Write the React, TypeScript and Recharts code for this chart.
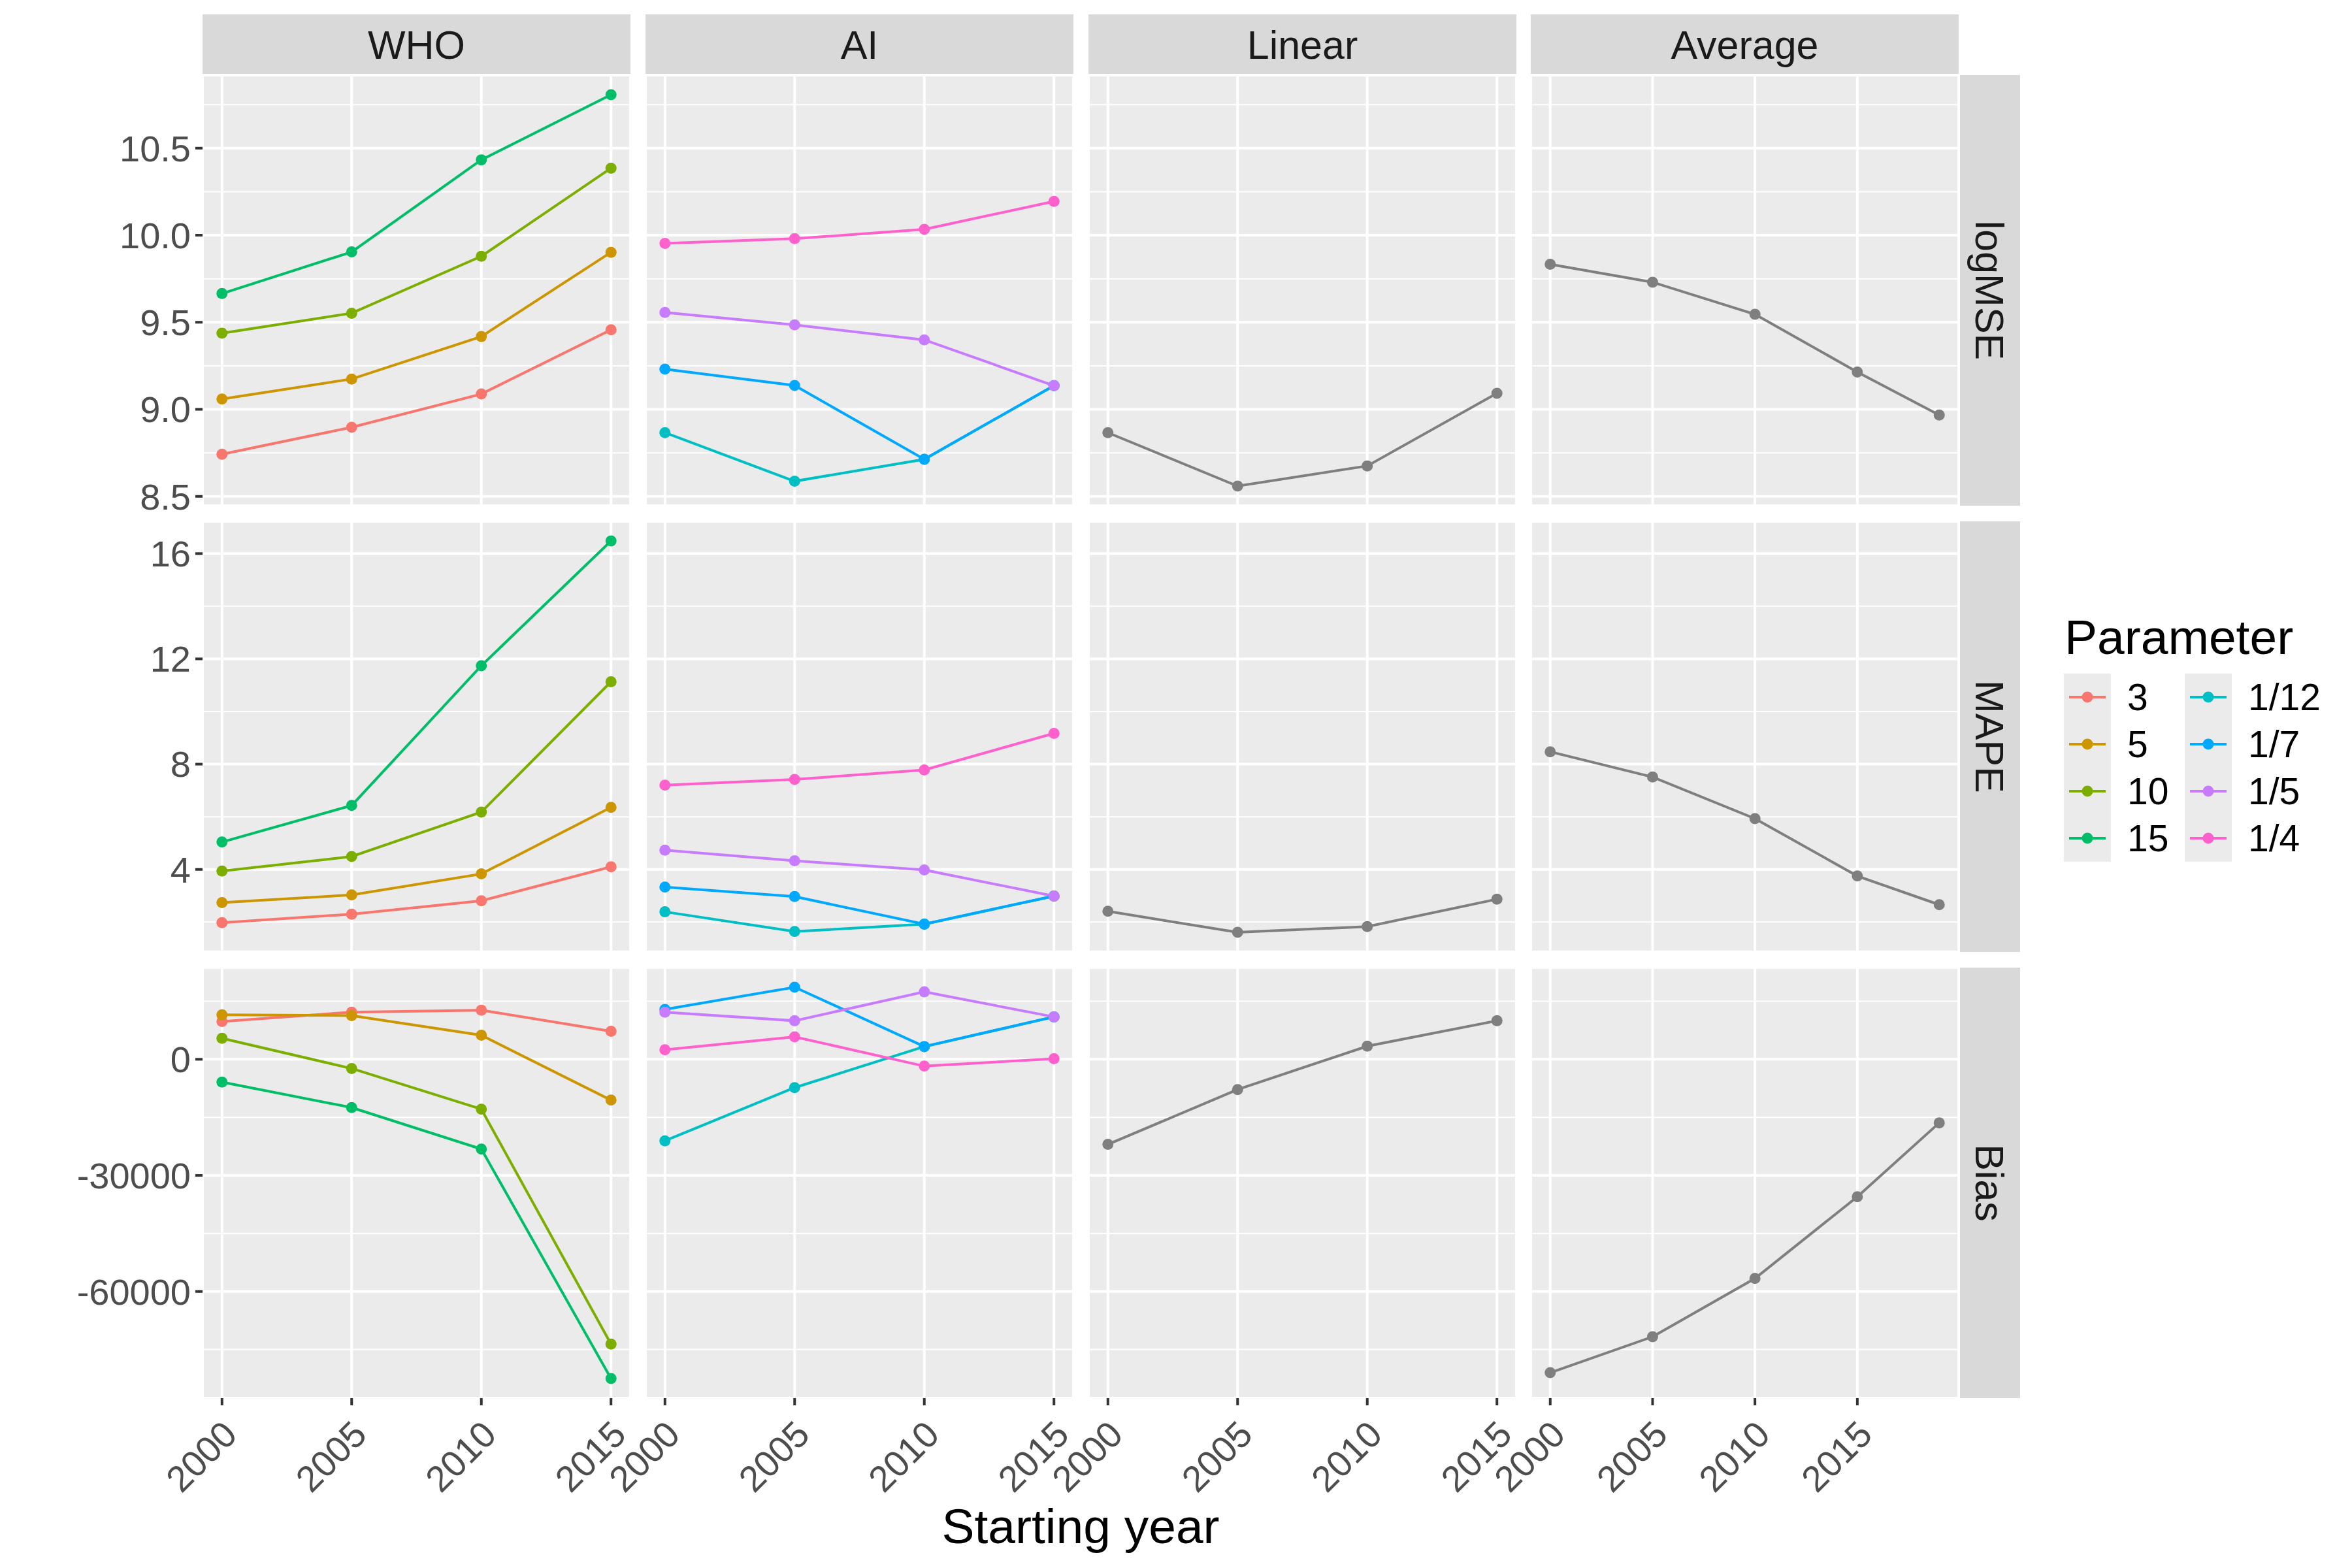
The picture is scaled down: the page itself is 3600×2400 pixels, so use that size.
import React from "react";
import { LineChart, Line, XAxis, YAxis, CartesianGrid } from "recharts";

// ── Data ──────────────────────────────────────────────────────────────────────
const years = [2000, 2005, 2010, 2015];
const avgYears = [2000, 2005, 2010, 2015, 2019];

const methods = ["WHO", "AI", "Linear", "Average"];
const metrics = ["logMSE", "MAPE", "Bias"];

const whoParams = ["3", "5", "10", "15"];
const aiParams = ["1/12", "1/7", "1/5", "1/4"];
const whoColors = ["#F8766D", "#CD9600", "#7CAE00", "#00BE67"];
const aiColors = ["#00BFC4", "#00A9FF", "#C77CFF", "#FF61CC"];
const GREY_LINE = "#7F7F7F";

// rows follow whoParams / aiParams order
const whoLogMSE = [
  [8.742, 8.897, 9.088, 9.457],
  [9.059, 9.174, 9.418, 9.902],
  [9.437, 9.552, 9.879, 10.385],
  [9.665, 9.904, 10.433, 10.807],
];
const aiLogMSE = [
  [8.866, 8.587, 8.713, 9.136],
  [9.231, 9.137, 8.713, 9.136],
  [9.556, 9.485, 9.399, 9.136],
  [9.953, 9.98, 10.034, 10.194],
];
const linearLogMSE = [8.866, 8.559, 8.675, 9.092];
const avgLogMSE = [9.833, 9.73, 9.546, 9.214, 8.967];

const whoMAPE = [
  [1.98, 2.3, 2.81, 4.1],
  [2.74, 3.03, 3.83, 6.36],
  [3.94, 4.49, 6.18, 11.13],
  [5.04, 6.43, 11.74, 16.48],
];
const aiMAPE = [
  [2.39, 1.64, 1.92, 2.99],
  [3.33, 2.97, 1.92, 2.99],
  [4.73, 4.33, 3.98, 2.99],
  [7.2, 7.42, 7.78, 9.17],
];
const linearMAPE = [2.41, 1.61, 1.83, 2.87];
const avgMAPE = [8.47, 7.51, 5.93, 3.75, 2.66];

const whoBias = [
  [9760, 12190, 12690, 7230],
  [11480, 11300, 6220, -10550],
  [5410, -2380, -12880, -73600],
  [-5900, -12470, -23190, -82500],
];
const aiBias = [
  [-21070, -7320, 3290, 10970],
  [12890, 18640, 3290, 10970],
  [12190, 9960, 17430, 10970],
  [2480, 5810, -1770, 150],
];
const linearBias = [-21980, -7820, 3390, 9960];
const avgBias = [-80990, -71690, -56630, -35510, -16420];

// axis breaks
const xMajor = [2000, 2005, 2010, 2015];
const xMinor = [2002.5, 2007.5, 2012.5];
const xMinorAvg = [2002.5, 2007.5, 2012.5, 2017.5];
const yMajor = [
  [8.5, 9, 9.5, 10, 10.5],
  [4, 8, 12, 16],
  [-60000, -30000, 0],
];
const yMinor = [
  [8.75, 9.25, 9.75, 10.25, 10.75],
  [2, 6, 10, 14],
  [-75000, -45000, -15000, 15000],
];

// ── Layout ────────────────────────────────────────────────────────────────────
const FONT = '"Liberation Sans", Arial, Helvetica, sans-serif';
const COL_LEFT = [310, 988, 1666, 2343];
const ROW_TOP = [115, 798, 1481];
const PANEL_W = 655;
const PANEL_H = 659;
const STRIP_TOP = 22;
const STRIP_H = 93;
const RSTRIP_X = 2998;
const RSTRIP_W = 94;
const X_AXIS_H = 200;

const whoByMetric = [whoLogMSE, whoMAPE, whoBias];
const aiByMetric = [aiLogMSE, aiMAPE, aiBias];
const linearByMetric = [linearLogMSE, linearMAPE, linearBias];
const avgByMetric = [avgLogMSE, avgMAPE, avgBias];

type Series = { key: string; color: string; values: number[] };

function seriesFor(row: number, col: number): { x: number[]; series: Series[] } {
  if (col === 0)
    return {
      x: years,
      series: whoParams.map((p, i) => ({ key: p, color: whoColors[i], values: whoByMetric[row][i] })),
    };
  if (col === 1)
    return {
      x: years,
      series: aiParams.map((p, i) => ({ key: p, color: aiColors[i], values: aiByMetric[row][i] })),
    };
  if (col === 2) return { x: years, series: [{ key: "Linear", color: GREY_LINE, values: linearByMetric[row] }] };
  return { x: avgYears, series: [{ key: "Average", color: GREY_LINE, values: avgByMetric[row] }] };
}

// ggplot-style 5% expansion
function expand(vals: number[]): [number, number] {
  const lo = Math.min(...vals);
  const hi = Math.max(...vals);
  const pad = (hi - lo) * 0.05;
  return [lo - pad, hi + pad];
}

function rowDomain(row: number): [number, number] {
  const all: number[] = [];
  for (let c = 0; c < 4; c++) seriesFor(row, c).series.forEach((s) => all.push(...s.values));
  return expand(all);
}

function fmtY(row: number) {
  return (v: number) => (row === 0 ? v.toFixed(1) : String(v));
}

function renderXTick(props: any) {
  const { x, y, payload } = props;
  const ax = x + 26;
  const ay = y + 48;
  return (
    <text
      x={ax}
      y={ay}
      transform={`rotate(-45 ${ax} ${ay})`}
      textAnchor="end"
      fontSize={56}
      fontFamily={FONT}
      fill="#4D4D4D"
    >
      {payload.value}
    </text>
  );
}

function Panel({ row, col }: { row: number; col: number }) {
  const { x, series } = seriesFor(row, col);
  const data = x.map((yr, i) => {
    const r: Record<string, number> = { year: yr };
    series.forEach((s) => (r[s.key] = s.values[i]));
    return r;
  });
  const xDom = expand(x);
  const yDom = rowDomain(row);
  const yW = col === 0 ? COL_LEFT[0] : 0;
  const xH = row === 2 ? X_AXIS_H : 0;
  const tickLine = { stroke: "#333333", strokeWidth: 4 };

  return (
    <div style={{ position: "absolute", left: COL_LEFT[col] - yW, top: ROW_TOP[row] }}>
      <LineChart
        width={yW + PANEL_W}
        height={PANEL_H + xH}
        data={data}
        margin={{ top: 0, right: 0, bottom: 0, left: 0 }}
      >
        <XAxis xAxisId="minor" type="number" domain={xDom} ticks={col === 3 ? xMinorAvg : xMinor} hide allowDataOverflow />
        <YAxis yAxisId="minor" type="number" domain={yDom} ticks={yMinor[row]} hide allowDataOverflow />
        <CartesianGrid xAxisId="minor" yAxisId="minor" fill="#EBEBEB" fillOpacity={1} stroke="#FFFFFF" strokeWidth={2} />
        <CartesianGrid stroke="#FFFFFF" strokeWidth={4} />
        <XAxis
          dataKey="year"
          type="number"
          domain={xDom}
          ticks={xMajor}
          allowDataOverflow
          hide={row !== 2}
          height={xH}
          interval={0}
          tickSize={11}
          tickMargin={0}
          axisLine={false}
          tickLine={tickLine}
          tick={renderXTick}
        />
        <YAxis
          type="number"
          domain={yDom}
          ticks={yMajor[row]}
          allowDataOverflow
          hide={col !== 0}
          width={yW}
          interval={0}
          tickSize={11}
          tickMargin={7}
          axisLine={false}
          tickLine={tickLine}
          tick={{ fontSize: 56, fill: "#4D4D4D", fontFamily: FONT }}
          tickFormatter={fmtY(row)}
        />
        {series.map((s) => (
          <Line
            key={s.key}
            type="linear"
            dataKey={s.key}
            stroke={s.color}
            strokeWidth={4}
            dot={{ r: 8.5, fill: s.color, stroke: "none", strokeWidth: 0 }}
            activeDot={false}
            isAnimationActive={false}
          />
        ))}
      </LineChart>
    </div>
  );
}

function Overlay() {
  const legendCols = [
    { x: 3159, params: whoParams, colors: whoColors },
    { x: 3344, params: aiParams, colors: aiColors },
  ];
  return (
    <svg width={3600} height={2400} style={{ position: "absolute", left: 0, top: 0 }} fontFamily={FONT}>
      {methods.map((m, c) => (
        <g key={m}>
          <rect x={COL_LEFT[c]} y={STRIP_TOP} width={PANEL_W} height={STRIP_H} fill="#D9D9D9" />
          <text
            x={COL_LEFT[c] + PANEL_W / 2}
            y={STRIP_TOP + STRIP_H / 2}
            textAnchor="middle"
            dominantBaseline="central"
            fontSize={61}
            fill="#1A1A1A"
          >
            {m}
          </text>
        </g>
      ))}
      {metrics.map((m, r) => {
        const cx = RSTRIP_X + RSTRIP_W / 2;
        const cy = ROW_TOP[r] + PANEL_H / 2;
        return (
          <g key={m}>
            <rect x={RSTRIP_X} y={ROW_TOP[r]} width={RSTRIP_W} height={PANEL_H} fill="#D9D9D9" />
            <text
              x={cx}
              y={cy}
              transform={`rotate(90 ${cx} ${cy})`}
              textAnchor="middle"
              dominantBaseline="central"
              fontSize={61}
              fill="#1A1A1A"
            >
              {m}
            </text>
          </g>
        );
      })}
      <text x={1654} y={2362} textAnchor="middle" fontSize={75} fill="#000000">
        Starting year
      </text>
      <text x={3160} y={1001} fontSize={75} fill="#000000">
        Parameter
      </text>
      {legendCols.map((lc) =>
        lc.params.map((p, i) => {
          const top = 1031 + i * 72;
          const cy = top + 36;
          return (
            <g key={p}>
              <rect x={lc.x} y={top} width={72} height={72} fill="#EBEBEB" />
              <line x1={lc.x + 8} x2={lc.x + 64} y1={cy} y2={cy} stroke={lc.colors[i]} strokeWidth={4} />
              <circle cx={lc.x + 36} cy={cy} r={8.5} fill={lc.colors[i]} />
              <text x={lc.x + 97} y={cy} dominantBaseline="central" fontSize={57} fill="#000000">
                {p}
              </text>
            </g>
          );
        })
      )}
    </svg>
  );
}

export default function App() {
  return (
    <div
      style={{
        position: "absolute",
        left: 0,
        top: 0,
        width: 3600,
        height: 2400,
        background: "#FFFFFF",
        fontFamily: FONT,
      }}
    >
      <style>{`.recharts-surface{overflow:visible}`}</style>
      <Overlay />
      {metrics.map((_, r) => methods.map((__, c) => <Panel key={`${r}-${c}`} row={r} col={c} />))}
    </div>
  );
}
